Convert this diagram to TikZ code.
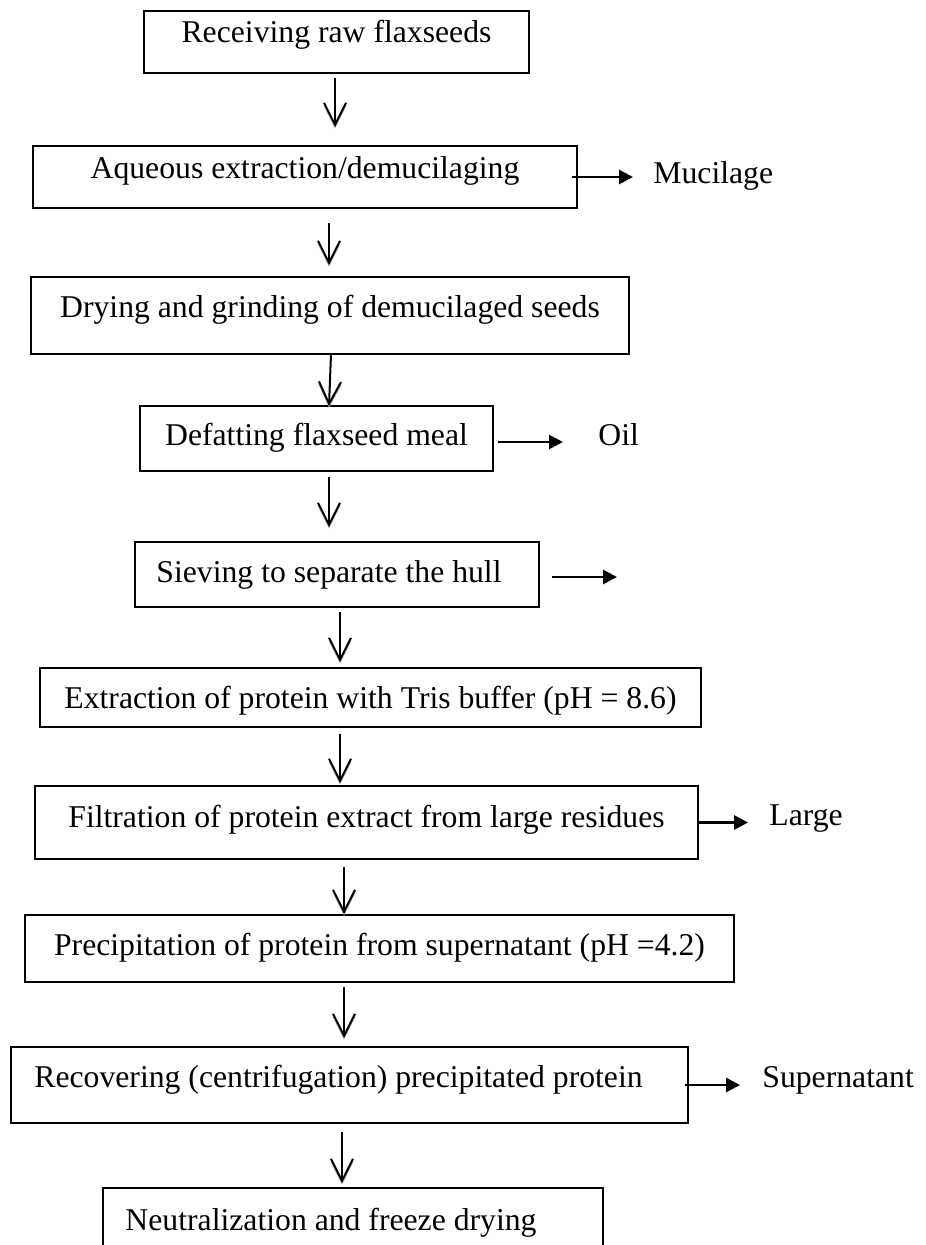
\documentclass[tikz,border=0pt]{standalone}
\usepackage{fontspec}
\setmainfont{Liberation Serif}
\usetikzlibrary{arrows.meta, calc}

\begin{document}
\begin{tikzpicture}[x=0.5pt, y=-0.5pt,
        every node/.style={font=\fontsize{15.85}{19}\selectfont},
        stepbox/.style={draw, line width=1pt, anchor=north west, inner ysep=0pt, outer sep=0pt},
        outlabel/.style={anchor=base west, inner sep=0pt},
        flow/.style={line width=1pt, -{Straight Barb[length=11pt,width=11pt]},
            preaction={draw=black!35, transform canvas={yshift=-1.5pt}}},
        side/.style={line width=1.4pt, -{Triangle[length=7pt,width=7pt]}}]
        \clip (0,0) rectangle (925,1245);

        \node[stepbox, minimum width=192.5pt, text height=16pt, text depth=15pt] (recv) at (144,11) {Receiving raw flaxseeds};
        \node[stepbox, minimum width=272pt, text height=16.5pt, text depth=14.5pt] (aqueous) at (33,146) {Aqueous extraction/demucilaging};
        \node[stepbox, minimum width=299pt, text height=20.5pt, text depth=18pt] (drying) at (31,277) {Drying and grinding of demucilaged seeds};
        \node[stepbox, minimum width=176.5pt, text height=19.5pt, text depth=13pt] (defat) at (140,406) {Defatting flaxseed meal};
        \node[stepbox, minimum width=202pt, text height=20pt, text depth=12.5pt] (sieve) at (135,542) {Sieving to separate the hull\hspace*{8pt}};
        \node[stepbox, minimum width=330.5pt, text height=20pt, text depth=9.5pt] (extract) at (40,668) {Extraction of protein with Tris buffer (pH = 8.6)};
        \node[stepbox, minimum width=331.5pt, text height=20.5pt, text depth=16pt] (filter) at (35,786) {Filtration of protein extract from large residues};
        \node[stepbox, minimum width=354.5pt, text height=20pt, text depth=13.5pt] (precip) at (25,915) {Precipitation of protein from supernatant (pH =4.2)};
        \node[stepbox, minimum width=338.5pt, text height=20pt, text depth=18pt] (recover) at (11,1047) {Recovering (centrifugation) precipitated protein\hspace*{11pt}};
        \node[stepbox, minimum width=250pt, text height=21pt, text depth=15pt] (neutral) at (103,1188) {Neutralization and freeze drying\hspace*{22pt}};

        \node[outlabel] (mucil) at (653,184) {Mucilage};
        \node[outlabel] (oil) at (598,445) {Oil};
        \node[outlabel] (large) at (769,825) {Large};
        \node[outlabel] (supern) at (762,1087) {Supernatant};
        \coordinate (hull) at (617,577);

        % main line
        \draw[flow] ($(recv.south)+(-1.5,5)$) -- ($(recv.south |- aqueous.north)+(-1.5,-19)$);
        \draw[flow] ($(aqueous.south)+(24,15)$) -- ($(aqueous.south |- drying.north)+(24,-12)$);
        \draw[flow] ($(drying.south)+(1,0)$) -- ($(drying.south |- defat.north)+(-1,0)$);
        \draw[flow] ($(defat.south)+(12.5,6)$) -- ($(defat.south |- sieve.north)+(12.5,-15)$);
        \draw[flow] ($(sieve.south)+(3,5)$) -- ($(sieve.south |- extract.north)+(3,-6)$);
        \draw[flow] ($(extract.south)+(-30.5,7)$) -- ($(extract.south |- filter.north)+(-30.5,-3)$);
        \draw[flow] ($(filter.south)+(-22.5,8)$) -- ($(filter.south |- precip.north)+(-22.5,-1)$);
        \draw[flow] ($(precip.south)+(-35.5,5)$) -- ($(precip.south |- recover.north)+(-35.5,-9)$);
        \draw[flow] ($(recover.south)+(-7.5,9)$) -- ($(recover.south |- neutral.north)+(-7.5,-5)$);

        % by-products
        \draw[side] ($(aqueous.east)+(-5,0)$) -- ($(aqueous.east -| mucil.west)+(-20,0)$);
        \draw[side] ($(defat.east)+(5,3.5)$) -- ($(defat.east -| oil.west)+(-35,3.5)$);
        \draw[side] ($(sieve.east)+(13,2.5)$) -- (hull);
        \draw[side] ($(filter.east)+(-1,0)$) -- ($(filter.east -| large.west)+(-21,0)$);
        \draw[side] ($(recover.east)+(-3,0)$) -- ($(recover.east -| supern.west)+(-22,0)$);
\end{tikzpicture}
\end{document}
